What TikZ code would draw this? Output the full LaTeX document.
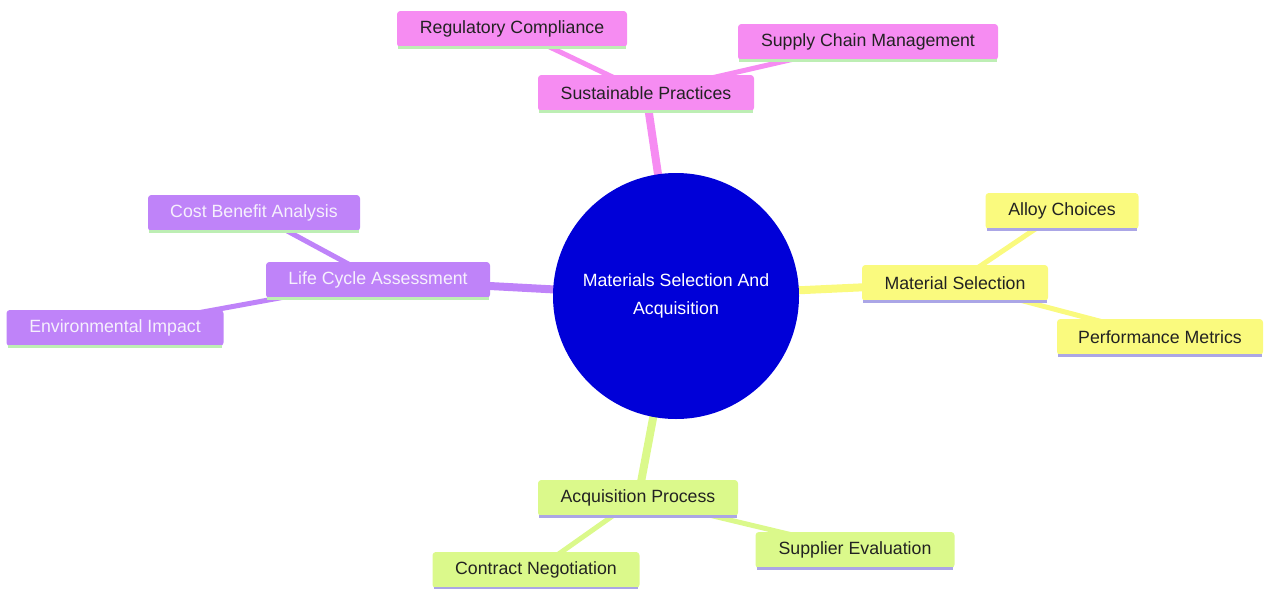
\documentclass[tikz,border=0pt]{standalone}
\usepackage{fontspec}
\setmainfont{Liberation Sans}
\usetikzlibrary{backgrounds}
\definecolor{pinkc}{HTML}{F68CF2}
\definecolor{purplec}{HTML}{BF83F9}
\definecolor{yellowc}{HTML}{FAFA7E}
\definecolor{greenc}{HTML}{DBF98B}
\definecolor{bluec}{HTML}{0000D8}
\definecolor{lgreenline}{HTML}{BDEEB4}
\definecolor{lavline}{HTML}{ABA6E6}
\definecolor{darktext}{HTML}{222222}
\definecolor{lighttext}{HTML}{F6F0FD}
\def\px{0.75pt}
\tikzset{
  box/.style={rounded corners=2.5pt, minimum height=36*\px, inner sep=0pt,
    font=\fontsize{13.3pt}{15pt}\selectfont},
  pinkbox/.style={box, fill=pinkc, text=darktext},
  purplebox/.style={box, fill=purplec, text=lighttext},
  yellowbox/.style={box, fill=yellowc, text=darktext},
  greenbox/.style={box, fill=greenc, text=darktext},
  mainlink/.style={line width=8*\px},
  sublink/.style={line width=5*\px},
}
\newcommand{\boxbottomline}[2]{\draw[line width=2.5*\px, #2] ([xshift=1.5*\px]#1.south west) -- ([xshift=-1.5*\px]#1.south east);}
\begin{document}
\begin{tikzpicture}[x=0.75pt, y=-0.75pt]
\useasboundingbox (0,0) rectangle (1264,589);
% central
\node[circle, fill=bluec, minimum size=246*\px, inner sep=0pt, text=white, align=center,
  font=\fontsize{13.3pt}{20.5pt}\selectfont] (root) at (676,296) {Materials Selection And\\Acquisition};
% pink
\node[pinkbox, minimum width=216*\px] (sp) at (646,93) {Sustainable Practices};
\node[pinkbox, minimum width=230*\px] (rc) at (512,29) {Regulatory Compliance};
\node[pinkbox, minimum width=260*\px] (scm) at (868,42) {Supply Chain Management};
% purple
\node[purplebox, minimum width=224*\px] (lca) at (378,280) {Life Cycle Assessment};
\node[purplebox, minimum width=212*\px] (cba) at (254,213) {Cost Benefit Analysis};
\node[purplebox, minimum width=217*\px] (ei) at (115,328) {Environmental Impact};
% yellow
\node[yellowbox, minimum width=186*\px] (ms) at (955,283) {Material Selection};
\node[yellowbox, minimum width=153*\px] (ac) at (1062,211) {Alloy Choices};
\node[yellowbox, minimum width=206*\px] (pm) at (1160,337) {Performance Metrics};
% green
\node[greenbox, minimum width=200*\px] (ap) at (638,498) {Acquisition Process};
\node[greenbox, minimum width=199*\px] (se) at (855,550) {Supplier Evaluation};
\node[greenbox, minimum width=207*\px] (cn) at (536,570) {Contract Negotiation};
% bottom borders
\boxbottomline{sp}{lgreenline}
\boxbottomline{rc}{lgreenline}
\boxbottomline{scm}{lgreenline}
\boxbottomline{lca}{lgreenline}
\boxbottomline{cba}{lgreenline}
\boxbottomline{ei}{lgreenline}
\boxbottomline{ms}{lavline}
\boxbottomline{ac}{lavline}
\boxbottomline{pm}{lavline}
\boxbottomline{ap}{lavline}
\boxbottomline{se}{lavline}
\boxbottomline{cn}{lavline}
\begin{pgfonlayer}{background}
\draw[mainlink, pinkc] (root.center) -- (sp.center);
\draw[mainlink, purplec] (root.center) -- (lca.center);
\draw[mainlink, yellowc] (root.center) -- (ms.center);
\draw[mainlink, greenc] (root.center) -- (ap.center);
\draw[sublink, pinkc] (sp.center) -- (rc.center);
\draw[sublink, pinkc] (sp.center) -- (scm.center);
\draw[sublink, purplec] (lca.center) -- (cba.center);
\draw[sublink, purplec] (lca.center) -- (ei.center);
\draw[sublink, yellowc] (ms.center) -- (ac.center);
\draw[sublink, yellowc] (ms.center) -- (pm.center);
\draw[sublink, greenc] (ap.center) -- (se.center);
\draw[sublink, greenc] (ap.center) -- (cn.center);
\end{pgfonlayer}
\end{tikzpicture}
\end{document}
